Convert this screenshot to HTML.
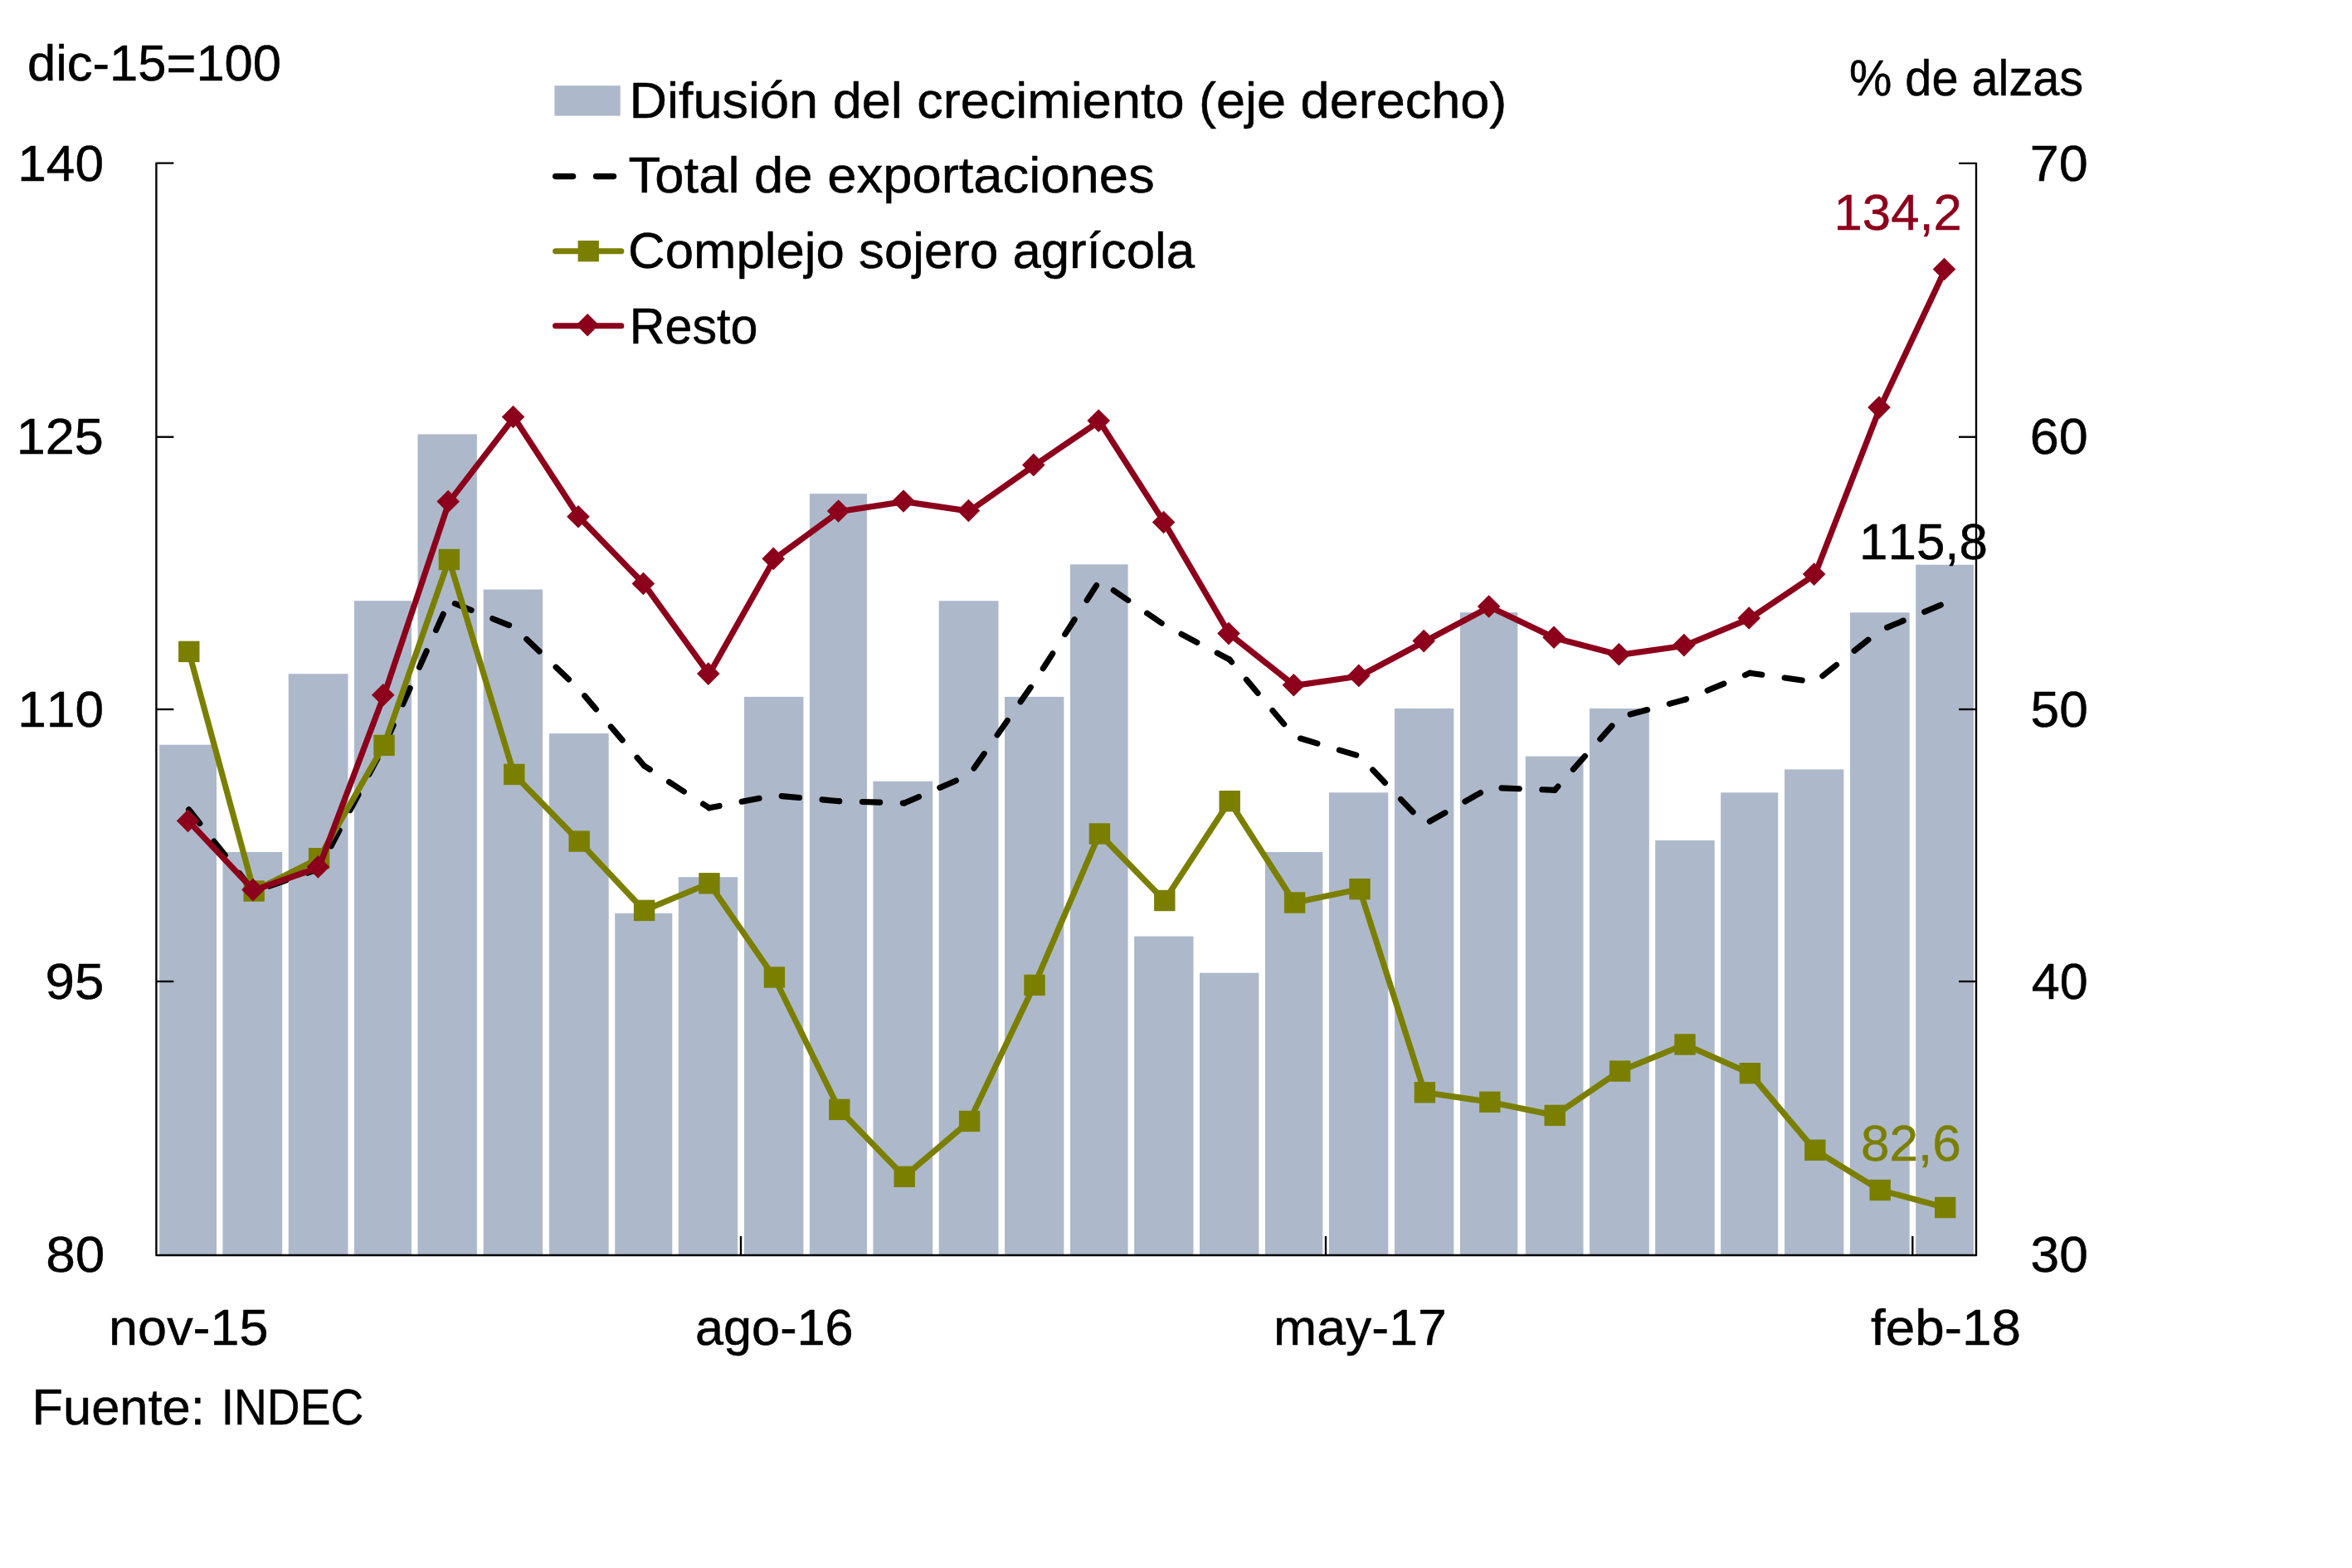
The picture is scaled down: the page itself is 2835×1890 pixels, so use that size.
<!DOCTYPE html>
<html lang="es"><head><meta charset="utf-8"><title>Exportaciones</title>
<style>
html,body{margin:0;padding:0;background:#fff;}
body{width:2835px;height:1890px;overflow:hidden;font-family:"Liberation Sans",Arial,sans-serif;}
svg{display:block;}
</style></head><body>
<svg width="2835" height="1890" viewBox="0 0 2835 1890">
<rect x="0" y="0" width="2835" height="1890" fill="#ffffff"/>
<g fill="#ADB9CA">
<rect x="192.2" y="897.7" width="68.8" height="615.3"/>
<rect x="268.4" y="1027.0" width="71.8" height="486.0"/>
<rect x="347.7" y="812.2" width="71.8" height="700.8"/>
<rect x="426.9" y="724.2" width="69.1" height="788.8"/>
<rect x="503.5" y="523.4" width="71.4" height="989.6"/>
<rect x="582.7" y="710.5" width="71.4" height="802.5"/>
<rect x="662.0" y="884.1" width="71.7" height="628.9"/>
<rect x="741.2" y="1100.8" width="69.1" height="412.2"/>
<rect x="817.8" y="1057.2" width="71.4" height="455.8"/>
<rect x="897.0" y="839.9" width="71.4" height="673.1"/>
<rect x="975.9" y="595.1" width="69.1" height="917.9"/>
<rect x="1052.4" y="941.7" width="71.8" height="571.3"/>
<rect x="1131.7" y="724.3" width="71.8" height="788.7"/>
<rect x="1211.0" y="839.9" width="71.4" height="673.1"/>
<rect x="1289.9" y="680.3" width="69.7" height="832.7"/>
<rect x="1367.1" y="1128.6" width="71.4" height="384.4"/>
<rect x="1446.0" y="1172.7" width="71.4" height="340.3"/>
<rect x="1524.9" y="1027.0" width="69.4" height="486.0"/>
<rect x="1601.9" y="955.3" width="71.4" height="557.7"/>
<rect x="1681.0" y="854.0" width="71.4" height="659.0"/>
<rect x="1759.9" y="738.2" width="69.4" height="774.8"/>
<rect x="1838.8" y="911.6" width="69.7" height="601.4"/>
<rect x="1916.0" y="854.0" width="71.8" height="659.0"/>
<rect x="1995.2" y="1012.9" width="71.5" height="500.1"/>
<rect x="2074.1" y="955.3" width="69.1" height="557.7"/>
<rect x="2151.0" y="927.4" width="71.4" height="585.6"/>
<rect x="2229.9" y="738.3" width="71.8" height="774.7"/>
<rect x="2309.2" y="680.7" width="69.7" height="832.3"/>
</g>
<g stroke="#000" stroke-width="2.35" fill="none" stroke-linecap="butt" stroke-linejoin="round">
<path d="M209.4 196.6 H188.4 V1513.0 H2382.0 V196.79999999999998 H2361.0"/>
<path d="M188.4 526.7 h21"/>
<path d="M2382.0 526.7 h-21"/>
<path d="M188.4 855.0 h21"/>
<path d="M2382.0 855.0 h-21"/>
<path d="M188.4 1183.0 h21"/>
<path d="M2382.0 1183.0 h-21"/>
<path d="M893.0 1513.0 v-23"/>
<path d="M1598.0 1513.0 v-23"/>
<path d="M2305.3 1513.0 v-23"/>
</g>
<g fill="none" stroke="#000" stroke-width="7.1" stroke-linecap="round" stroke-dasharray="21.3 27.6">
<path d="M227.6 975.8 L306.0 1074.6" stroke-dashoffset="0.0"/>
<path d="M306.0 1074.6 L384.4 1047.5" stroke-dashoffset="29.3"/>
<path d="M384.4 1047.5 L462.8 899.5" stroke-dashoffset="17.5"/>
<path d="M462.8 899.5 L541.2 724.7" stroke-dashoffset="42.3"/>
<path d="M541.2 724.7 L619.6 756.0" stroke-dashoffset="41.2"/>
<path d="M619.6 756.0 L698.0 830.8" stroke-dashoffset="28.0"/>
<path d="M698.0 830.8 L776.4 923.0" stroke-dashoffset="38.6"/>
<path d="M776.4 923.0 L854.8 973.8" stroke-dashoffset="13.0"/>
<path d="M854.8 973.8 L933.2 958.8" stroke-dashoffset="8.8"/>
<path d="M933.2 958.8 L1011.6 965.7" stroke-dashoffset="39.8"/>
<path d="M1011.6 965.7 L1090.0 968.0" stroke-dashoffset="21.1"/>
<path d="M1090.0 968.0 L1168.4 934.0" stroke-dashoffset="2.2"/>
<path d="M1168.4 934.0 L1246.8 822.0" stroke-dashoffset="39.1"/>
<path d="M1246.8 822.0 L1325.2 700.0" stroke-dashoffset="29.6"/>
<path d="M1325.2 700.0 L1403.6 753.5" stroke-dashoffset="28.3"/>
<path d="M1403.6 753.5 L1482.0 795.0" stroke-dashoffset="25.8"/>
<path d="M1482.0 795.0 L1560.4 887.9" stroke-dashoffset="17.3"/>
<path d="M1560.4 887.9 L1638.8 911.4" stroke-dashoffset="41.5"/>
<path d="M1638.8 911.4 L1717.2 993.5" stroke-dashoffset="25.9"/>
<path d="M1717.2 993.5 L1795.6 949.3" stroke-dashoffset="41.9"/>
<path d="M1795.6 949.3 L1874.0 952.4" stroke-dashoffset="34.5"/>
<path d="M1874.0 952.4 L1952.4 864.4" stroke-dashoffset="15.4"/>
<path d="M1952.4 864.4 L2030.8 843.4" stroke-dashoffset="35.8"/>
<path d="M2030.8 843.4 L2109.2 811.3" stroke-dashoffset="19.4"/>
<path d="M2109.2 811.3 L2187.6 822.0" stroke-dashoffset="6.6"/>
<path d="M2187.6 822.0 L2266.0 760.0" stroke-dashoffset="37.1"/>
<path d="M2266.0 760.0 L2344.5 727.0" stroke-dashoffset="39.6"/>
</g>
<polyline points="227.6,785.4 306.0,1074.0 384.4,1034.7 462.8,898.4 541.2,674.5 619.6,933.4 698.0,1014.1 776.4,1097.4 854.8,1064.8 933.2,1178.0 1011.6,1337.4 1090.0,1418.3 1168.4,1351.5 1246.8,1187.4 1325.2,1005.0 1403.6,1085.5 1482.0,965.7 1560.4,1088.0 1638.8,1071.7 1717.2,1316.8 1795.6,1328.3 1874.0,1344.4 1952.4,1291.1 2030.8,1259.0 2109.2,1293.7 2187.6,1386.3 2266.0,1434.5 2344.5,1455.5" fill="none" stroke="#7B7F00" stroke-width="7.2" stroke-linecap="round" stroke-linejoin="round"/>
<g fill="#7B7F00">
<rect x="215.1" y="772.7" width="25.4" height="25.4"/>
<rect x="293.5" y="1061.3" width="25.4" height="25.4"/>
<rect x="371.9" y="1022.0" width="25.4" height="25.4"/>
<rect x="450.3" y="885.7" width="25.4" height="25.4"/>
<rect x="528.7" y="661.8" width="25.4" height="25.4"/>
<rect x="607.1" y="920.7" width="25.4" height="25.4"/>
<rect x="685.5" y="1001.4" width="25.4" height="25.4"/>
<rect x="763.9" y="1084.7" width="25.4" height="25.4"/>
<rect x="842.3" y="1052.1" width="25.4" height="25.4"/>
<rect x="920.7" y="1165.3" width="25.4" height="25.4"/>
<rect x="999.1" y="1324.7" width="25.4" height="25.4"/>
<rect x="1077.5" y="1405.6" width="25.4" height="25.4"/>
<rect x="1155.9" y="1338.8" width="25.4" height="25.4"/>
<rect x="1234.3" y="1174.7" width="25.4" height="25.4"/>
<rect x="1312.7" y="992.3" width="25.4" height="25.4"/>
<rect x="1391.1" y="1072.8" width="25.4" height="25.4"/>
<rect x="1469.5" y="953.0" width="25.4" height="25.4"/>
<rect x="1547.9" y="1075.3" width="25.4" height="25.4"/>
<rect x="1626.3" y="1059.0" width="25.4" height="25.4"/>
<rect x="1704.7" y="1304.1" width="25.4" height="25.4"/>
<rect x="1783.1" y="1315.6" width="25.4" height="25.4"/>
<rect x="1861.5" y="1331.7" width="25.4" height="25.4"/>
<rect x="1939.9" y="1278.4" width="25.4" height="25.4"/>
<rect x="2018.3" y="1246.3" width="25.4" height="25.4"/>
<rect x="2096.7" y="1281.0" width="25.4" height="25.4"/>
<rect x="2175.1" y="1373.6" width="25.4" height="25.4"/>
<rect x="2253.5" y="1421.8" width="25.4" height="25.4"/>
<rect x="2332.0" y="1442.8" width="25.4" height="25.4"/>
</g>
<polyline points="227.6,990.0 306.0,1073.2 384.4,1045.5 462.8,838.3 541.2,605.1 619.6,503.1 698.0,623.3 776.4,704.1 854.8,812.7 933.2,674.0 1011.6,616.6 1090.0,604.6 1168.4,616.1 1246.8,561.0 1325.2,507.7 1403.6,630.1 1482.0,764.2 1560.4,826.4 1638.8,815.0 1717.2,773.2 1795.6,731.6 1874.0,768.9 1952.4,789.4 2030.8,778.2 2109.2,745.6 2187.6,692.7 2266.0,491.7 2344.5,325.1" fill="none" stroke="#8C001B" stroke-width="7.2" stroke-linecap="round" stroke-linejoin="round"/>
<g fill="#8C001B">
<path d="M226.6 975.6 L240.4 989.4 L226.6 1003.2 L212.8 989.4 Z"/>
<path d="M305.0 1058.8 L318.8 1072.6 L305.0 1086.4 L291.2 1072.6 Z"/>
<path d="M383.4 1031.1 L397.2 1044.9 L383.4 1058.7 L369.6 1044.9 Z"/>
<path d="M461.8 823.9 L475.6 837.7 L461.8 851.5 L448.0 837.7 Z"/>
<path d="M540.2 590.7 L554.0 604.5 L540.2 618.3 L526.4 604.5 Z"/>
<path d="M618.6 488.7 L632.4 502.5 L618.6 516.3 L604.8 502.5 Z"/>
<path d="M697.0 608.9 L710.8 622.7 L697.0 636.5 L683.2 622.7 Z"/>
<path d="M775.4 689.7 L789.2 703.5 L775.4 717.3 L761.6 703.5 Z"/>
<path d="M853.8 798.3 L867.6 812.1 L853.8 825.9 L840.0 812.1 Z"/>
<path d="M932.2 659.6 L946.0 673.4 L932.2 687.2 L918.4 673.4 Z"/>
<path d="M1010.6 602.2 L1024.4 616.0 L1010.6 629.8 L996.8 616.0 Z"/>
<path d="M1089.0 590.2 L1102.8 604.0 L1089.0 617.8 L1075.2 604.0 Z"/>
<path d="M1167.4 601.7 L1181.2 615.5 L1167.4 629.3 L1153.6 615.5 Z"/>
<path d="M1245.8 546.6 L1259.6 560.4 L1245.8 574.2 L1232.0 560.4 Z"/>
<path d="M1324.2 493.3 L1338.0 507.1 L1324.2 520.9 L1310.4 507.1 Z"/>
<path d="M1402.6 615.7 L1416.4 629.5 L1402.6 643.3 L1388.8 629.5 Z"/>
<path d="M1481.0 749.8 L1494.8 763.6 L1481.0 777.4 L1467.2 763.6 Z"/>
<path d="M1559.4 812.0 L1573.2 825.8 L1559.4 839.6 L1545.6 825.8 Z"/>
<path d="M1637.8 800.6 L1651.6 814.4 L1637.8 828.2 L1624.0 814.4 Z"/>
<path d="M1716.2 758.8 L1730.0 772.6 L1716.2 786.4 L1702.4 772.6 Z"/>
<path d="M1794.6 717.2 L1808.4 731.0 L1794.6 744.8 L1780.8 731.0 Z"/>
<path d="M1873.0 754.5 L1886.8 768.3 L1873.0 782.1 L1859.2 768.3 Z"/>
<path d="M1951.4 775.0 L1965.2 788.8 L1951.4 802.6 L1937.6 788.8 Z"/>
<path d="M2029.8 763.8 L2043.6 777.6 L2029.8 791.4 L2016.0 777.6 Z"/>
<path d="M2108.2 731.2 L2122.0 745.0 L2108.2 758.8 L2094.4 745.0 Z"/>
<path d="M2186.6 678.3 L2200.4 692.1 L2186.6 705.9 L2172.8 692.1 Z"/>
<path d="M2265.0 477.3 L2278.8 491.1 L2265.0 504.9 L2251.2 491.1 Z"/>
<path d="M2343.5 310.7 L2357.3 324.5 L2343.5 338.3 L2329.7 324.5 Z"/>
</g>
<rect x="668.4" y="103.2" width="79.3" height="36.4" fill="#ADB9CA"/>
<path d="M669.5 212.6 H690.8 M718.4 212.6 H739.7" stroke="#000" stroke-width="7.05" stroke-linecap="round" fill="none"/>
<path d="M669.6 302.7 H748.8" stroke="#7B7F00" stroke-width="7.1" stroke-linecap="round" fill="none"/>
<rect x="696.6" y="290.0" width="25.3" height="25.4" fill="#7B7F00"/>
<path d="M669.6 392.8 H748.8" stroke="#8C001B" stroke-width="7.1" stroke-linecap="round" fill="none"/>
<path d="M708.2 377.9 L721.95 391.65 L708.2 405.4 L694.45 391.65 Z" fill="#8C001B"/>
<g font-family="'Liberation Sans', Arial, Helvetica, sans-serif" font-size="61.0px" stroke-width="0.5" stroke-linejoin="round" style="white-space:pre">
<text x="32.94" y="96.9" textLength="306.09" lengthAdjust="spacingAndGlyphs" fill="#000" stroke="#000">dic-15=100</text>
<text x="2228.98" y="114.6" textLength="282.23" lengthAdjust="spacingAndGlyphs" fill="#000" stroke="#000">% de alzas</text>
<text x="758.46" y="141.9" textLength="1057.90" lengthAdjust="spacingAndGlyphs" fill="#000" stroke="#000">Difusión del crecimiento (eje derecho)</text>
<text x="757.63" y="232.0" textLength="634.18" lengthAdjust="spacingAndGlyphs" fill="#000" stroke="#000">Total de exportaciones</text>
<text x="757.11" y="323.0" textLength="682.97" lengthAdjust="spacingAndGlyphs" fill="#000" stroke="#000">Complejo sojero agrícola</text>
<text x="758.76" y="413.9" textLength="154.75" lengthAdjust="spacingAndGlyphs" fill="#000" stroke="#000">Resto</text>
<text x="21.22" y="217.8" textLength="103.86" lengthAdjust="spacingAndGlyphs" fill="#000" stroke="#000" font-kerning="none" style="font-kerning:none">140</text>
<text x="19.76" y="546.6" textLength="105.16" lengthAdjust="spacingAndGlyphs" fill="#000" stroke="#000" font-kerning="none" style="font-kerning:none">125</text>
<text x="21.22" y="875.5" textLength="103.79" lengthAdjust="spacingAndGlyphs" fill="#000" stroke="#000" font-kerning="none" style="font-kerning:none">110</text>
<text x="54.52" y="1204.3" textLength="70.93" lengthAdjust="spacingAndGlyphs" fill="#000" stroke="#000" font-kerning="none" style="font-kerning:none">95</text>
<text x="55.32" y="1533.1" textLength="71.13" lengthAdjust="spacingAndGlyphs" fill="#000" stroke="#000" font-kerning="none" style="font-kerning:none">80</text>
<text x="2446.85" y="217.8" textLength="69.96" lengthAdjust="spacingAndGlyphs" fill="#000" stroke="#000" font-kerning="none" style="font-kerning:none">70</text>
<text x="2446.85" y="546.6" textLength="69.96" lengthAdjust="spacingAndGlyphs" fill="#000" stroke="#000" font-kerning="none" style="font-kerning:none">60</text>
<text x="2447.50" y="875.5" textLength="69.28" lengthAdjust="spacingAndGlyphs" fill="#000" stroke="#000" font-kerning="none" style="font-kerning:none">50</text>
<text x="2448.78" y="1204.3" textLength="67.97" lengthAdjust="spacingAndGlyphs" fill="#000" stroke="#000" font-kerning="none" style="font-kerning:none">40</text>
<text x="2447.50" y="1533.1" textLength="69.28" lengthAdjust="spacingAndGlyphs" fill="#000" stroke="#000" font-kerning="none" style="font-kerning:none">30</text>
<text x="131.11" y="1621.1" textLength="192.48" lengthAdjust="spacingAndGlyphs" fill="#000" stroke="#000">nov-15</text>
<text x="838.05" y="1621.1" textLength="190.53" lengthAdjust="spacingAndGlyphs" fill="#000" stroke="#000">ago-16</text>
<text x="1535.13" y="1621.1" textLength="208.67" lengthAdjust="spacingAndGlyphs" fill="#000" stroke="#000">may-17</text>
<text x="2255.04" y="1621.1" textLength="180.84" lengthAdjust="spacingAndGlyphs" fill="#000" stroke="#000">feb-18</text>
<text x="38.49" y="1716.7" textLength="208.21" lengthAdjust="spacingAndGlyphs" fill="#000" stroke="#000">Fuente:</text>
<text x="266.74" y="1716.7" textLength="171.47" lengthAdjust="spacingAndGlyphs" fill="#000" stroke="#000">INDEC</text>
<text x="2210.57" y="276.5" textLength="154.32" lengthAdjust="spacingAndGlyphs" fill="#8C001B" stroke="#8C001B" font-kerning="none" style="font-kerning:none">134,2</text>
<text x="2241.05" y="674.0" textLength="154.96" lengthAdjust="spacingAndGlyphs" fill="#000" stroke="#000" font-kerning="none" style="font-kerning:none">115,8</text>
<text x="2242.91" y="1399.3" textLength="120.78" lengthAdjust="spacingAndGlyphs" fill="#7B7F00" stroke="#7B7F00" font-kerning="none" style="font-kerning:none">82,6</text>
</g>
</svg>
</body></html>
